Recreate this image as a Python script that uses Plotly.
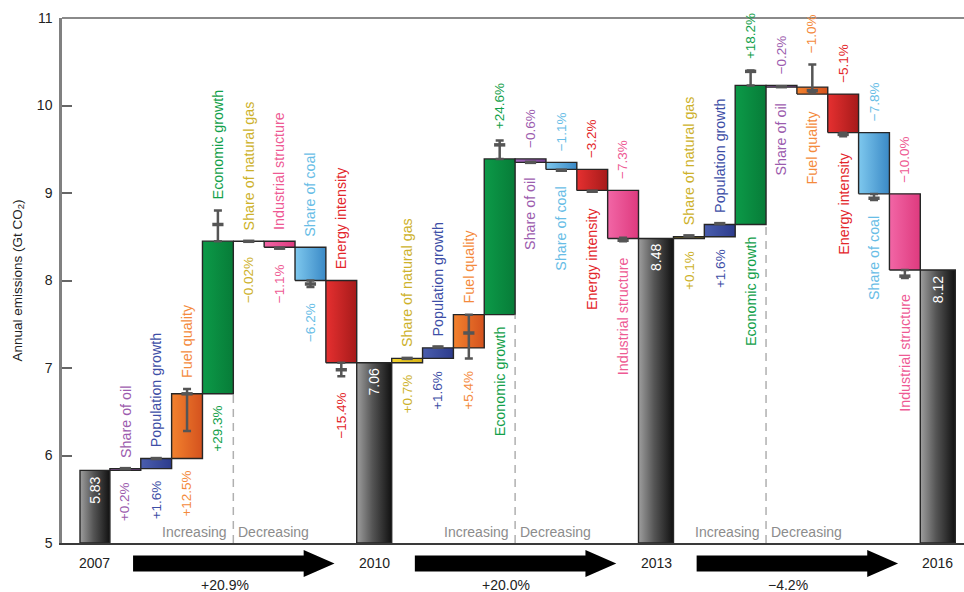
import plotly.graph_objects as go

# ---------------- DATA ----------------
years = ['2007', '2010', '2013', '2016']
year_values = [5.83, 7.06, 8.48, 8.12]
period_changes = ['+20.9%', '+20.0%', '\u22124.2%']

p1_factors = ['Share of oil', 'Population growth', 'Fuel quality', 'Economic growth',
              'Share of natural gas', 'Industrial structure', 'Share of coal', 'Energy intensity']
p1_deltas = [0.02, 0.115, 0.74, 1.745, -0.002, -0.068, -0.38, -0.94]
p1_pcts = ['+0.2%', '+1.6%', '+12.5%', '+29.3%', '\u22120.02%', '\u22121.1%', '\u22126.2%', '\u221215.4%']
p1_err_lo = [5.85, 5.965, 6.28, 8.45, 8.448, 8.37, 7.925, 6.905]
p1_err_hi = [5.85, 5.965, 6.76, 8.80, 8.448, 8.37, 8.00, 7.06]
p1_err_mid = [5.85, 5.965, 6.705, 8.64, 8.448, 8.37, 7.96, 6.98]

p2_factors = ['Share of natural gas', 'Population growth', 'Fuel quality', 'Economic growth',
              'Share of oil', 'Share of coal', 'Energy intensity', 'Industrial structure']
p2_deltas = [0.05, 0.12, 0.38, 1.78, -0.04, -0.08, -0.24, -0.55]
p2_pcts = ['+0.7%', '+1.6%', '+5.4%', '+24.6%', '\u22120.6%', '\u22121.1%', '\u22123.2%', '\u22127.3%']
p2_err_lo = [7.11, 7.24, 7.11, 9.39, 9.35, 9.26, 9.02, 8.45]
p2_err_hi = [7.11, 7.24, 7.61, 9.60, 9.35, 9.26, 9.02, 8.49]
p2_err_mid = [7.11, 7.24, 7.40, 9.55, 9.35, 9.26, 9.02, 8.46]

p3_factors = ['Share of natural gas', 'Population growth', 'Economic growth', 'Share of oil',
              'Fuel quality', 'Energy intensity', 'Share of coal', 'Industrial structure']
p3_deltas = [0.02, 0.14, 1.59, -0.02, -0.08, -0.44, -0.70, -0.87]
p3_pcts = ['+0.1%', '+1.6%', '+18.2%', '\u22120.2%', '\u22121.0%', '\u22125.1%', '\u22127.8%', '\u221210.0%']
p3_err_lo = [8.51, 8.65, 10.23, 10.215, 10.15, 9.65, 8.92, 8.03]
p3_err_hi = [8.51, 8.65, 10.40, 10.215, 10.47, 9.69, 8.99, 8.12]
p3_err_mid = [8.51, 8.65, 10.39, 10.215, 10.17, 9.67, 8.94, 8.05]

# ---------------- STYLE ----------------
FONT = 'Liberation Sans, Arial, Helvetica, sans-serif'
fill_colors = {
    'Share of oil': ('#a468bc', '#7a4294'),
    'Population growth': ('#4a5eae', '#2c3b8c'),
    'Fuel quality': ('#f3822e', '#d4521e'),
    'Economic growth': ('#0c9a48', '#077c38'),
    'Share of natural gas': ('#f2d32c', '#d6b216'),
    'Industrial structure': ('#f266a6', '#de3a7e'),
    'Share of coal': ('#7ec8ee', '#3a89c6'),
    'Energy intensity': ('#e63030', '#a61a1a'),
}
text_colors = {
    'Share of oil': '#9c5cae',
    'Population growth': '#3d4ea6',
    'Fuel quality': '#f48a3c',
    'Economic growth': '#12a04a',
    'Share of natural gas': '#cdb12a',
    'Industrial structure': '#ee5a94',
    'Share of coal': '#68bde6',
    'Energy intensity': '#e3262a',
}
ERR_COLOR = '#555555'
name_on_top = [[1] * 8, [1, 1, 1, 0, 0, 0, 0, 0], [1, 1, 0, 0, 0, 0, 0, 0]]
year_widths = [0.97, 1.134, 1.134, 1.134]
UNIT_PX = 30.85
X_MIN = (62 - 80) / UNIT_PX
X_MAX = (964 - 80) / UNIT_PX
Y_MIN, Y_MAX = 5, 11
PLOT_H = 525

periods = [
    dict(f=p1_factors, d=p1_deltas, p=p1_pcts, lo=p1_err_lo, hi=p1_err_hi, mid=p1_err_mid),
    dict(f=p2_factors, d=p2_deltas, p=p2_pcts, lo=p2_err_lo, hi=p2_err_hi, mid=p2_err_mid),
    dict(f=p3_factors, d=p3_deltas, p=p3_pcts, lo=p3_err_lo, hi=p3_err_hi, mid=p3_err_mid),
]

fig = go.Figure()
annotations = []
shapes = []


def add_bar(left, right, bottom, top, c0, c1, name):
    fig.add_trace(go.Scatter(
        x=[left, right, right, left, left], y=[bottom, bottom, top, top, bottom],
        mode='lines', fill='toself',
        fillgradient=dict(type='horizontal', colorscale=[[0, c0], [1, c1]]),
        line=dict(color='#262626', width=1.4),
        hoverinfo='skip', showlegend=False, name=name))


def add_year(k, left):
    right = left + year_widths[k]
    xc = (left + right) / 2
    fig.add_trace(go.Scatter(
        x=[left, right, right, left, left],
        y=[Y_MIN, Y_MIN, year_values[k], year_values[k], Y_MIN],
        mode='lines', fill='toself',
        fillgradient=dict(type='horizontal',
                          colorscale=[[0, '#9e9e9e'], [0.45, '#555555'], [1, '#111111']]),
        line=dict(color='#262626', width=1.4),
        hoverinfo='skip', showlegend=False, name=years[k]))
    annotations.append(dict(x=xc, y=year_values[k], xref='x', yref='y', text=f'{year_values[k]:.2f}',
                            textangle=-90, yanchor='top', xanchor='center', yshift=-4, showarrow=False,
                            font=dict(family=FONT, size=14, color='white')))
    annotations.append(dict(x=xc, y=0, xref='x', yref='paper', text=years[k], yanchor='middle',
                            xanchor='center', yshift=-20, showarrow=False,
                            font=dict(family=FONT, size=14, color='#222222')))
    return right


cursor = 0.0
year_edges = []
r = add_year(0, cursor)
year_edges.append((cursor, r))
cursor = r

for k, per in enumerate(periods):
    level = year_values[k]
    ex, ey, eplus, eminus = [], [], [], []
    dash_x, dash_top = None, None
    for i, name in enumerate(per['f']):
        left, right = cursor, cursor + 1
        xc = cursor + 0.5
        new = level + per['d'][i]
        bottom, top = min(level, new), max(level, new)
        c0, c1 = fill_colors[name]
        add_bar(left, right, bottom, top, c0, c1, name)
        if per['d'][i] > 0:
            dash_x, dash_top = right, bottom
        ex.append(xc)
        ey.append(per['mid'][i])
        eplus.append(per['hi'][i] - per['mid'][i])
        eminus.append(per['mid'][i] - per['lo'][i])
        top_anchor = max(top, per['hi'][i])
        bot_anchor = min(bottom, per['lo'][i])
        if name_on_top[k][i]:
            top_txt, top_size, bot_txt, bot_size = name, 14.3, per['p'][i], 13.5
        else:
            top_txt, top_size, bot_txt, bot_size = per['p'][i], 13.5, name, 14.3
        col = text_colors[name]
        bshift = -10 if per['d'][i] > 0 else -14
        annotations.append(dict(x=xc, y=top_anchor, xref='x', yref='y', text=top_txt, textangle=-90,
                                yanchor='bottom', xanchor='center', yshift=9, showarrow=False,
                                font=dict(family=FONT, size=top_size, color=col)))
        annotations.append(dict(x=xc, y=bot_anchor, xref='x', yref='y', text=bot_txt, textangle=-90,
                                yanchor='top', xanchor='center', yshift=bshift, showarrow=False,
                                font=dict(family=FONT, size=bot_size, color=col)))
        level = new
        cursor += 1
    # error bars
    fig.add_trace(go.Scatter(
        x=ex, y=ey, mode='markers',
        marker=dict(symbol='line-ew-open', size=8, color=ERR_COLOR,
                    line=dict(color=ERR_COLOR, width=3.5)),
        error_y=dict(type='data', symmetric=False, array=eplus, arrayminus=eminus,
                     color=ERR_COLOR, thickness=2.5, width=4),
        hoverinfo='skip', showlegend=False))
    # dashed separator
    shapes.append(dict(type='line', xref='x', yref='y', x0=dash_x, x1=dash_x, y0=Y_MIN, y1=dash_top,
                       line=dict(color='#b0b0b0', width=1.5, dash='8px,6px')))
    annotations.append(dict(x=dash_x, y=Y_MIN, xref='x', yref='y', text='Increasing', xanchor='right',
                            yanchor='bottom', xshift=-4, yshift=1, showarrow=False,
                            font=dict(family=FONT, size=14, color='#8c8c8c')))
    annotations.append(dict(x=dash_x, y=Y_MIN, xref='x', yref='y', text='Decreasing', xanchor='left',
                            yanchor='bottom', xshift=3, yshift=1, showarrow=False,
                            font=dict(family=FONT, size=14, color='#8c8c8c')))
    left = cursor
    r = add_year(k + 1, left)
    year_edges.append((left, r))
    cursor = r


def px(xd):
    return (xd - X_MIN) / (X_MAX - X_MIN)


def py(dpx):
    return -dpx / PLOT_H


# arrows between years
for k in range(3):
    xs = year_edges[k][1] + 0.75
    xt = year_edges[k + 1][0] - 0.72
    xh = xt - 1.0
    yc = 20.5
    pts = [(xs, yc - 8), (xh, yc - 8), (xh, yc - 13.5), (xt, yc), (xh, yc + 13.5), (xh, yc + 8), (xs, yc + 8)]
    path = 'M ' + ' L '.join(f'{px(a):.5f},{py(b):.5f}' for a, b in pts) + ' Z'
    shapes.append(dict(type='path', xref='paper', yref='paper', path=path,
                       fillcolor='black', line=dict(color='black', width=0)))
    annotations.append(dict(x=(xs + xt) / 2 - 0.3, y=0, xref='x', yref='paper', text=period_changes[k],
                            yanchor='middle', xanchor='center', yshift=-41.5, showarrow=False,
                            font=dict(family=FONT, size=14, color='#222222')))

# top border
shapes.append(dict(type='line', xref='paper', yref='paper', x0=0, x1=1, y0=1, y1=1,
                   line=dict(color='#8a8a8a', width=2)))

# y axis title
annotations.append(dict(x=0, y=0.5, xref='paper', yref='paper', xshift=-44, text='Annual emissions (Gt CO<sub>2</sub>)',
                        textangle=-90, xanchor='center', yanchor='middle', showarrow=False,
                        font=dict(family=FONT, size=13.5, color='#222222')))

fig.update_layout(
    width=964, height=592,
    margin=dict(l=62, r=0, t=18, b=49),
    paper_bgcolor='white', plot_bgcolor='white',
    showlegend=False,
    xaxis=dict(range=[X_MIN, X_MAX], showline=True, linecolor='#3a3a3a', linewidth=1.5,
               showticklabels=False, ticks='', showgrid=False, zeroline=False, fixedrange=True),
    yaxis=dict(range=[Y_MIN, Y_MAX], tickvals=[5, 6, 7, 8, 9, 10, 11], ticks='inside', ticklen=10,
               tickwidth=2, tickcolor='#666666', showline=True, linecolor='#808080', linewidth=2.5,
               showgrid=False, zeroline=False, ticklabelstandoff=4,
               tickfont=dict(family=FONT, size=14, color='#222222'), fixedrange=True),
    shapes=shapes,
    annotations=annotations,
)

fig.write_html('out.html')
